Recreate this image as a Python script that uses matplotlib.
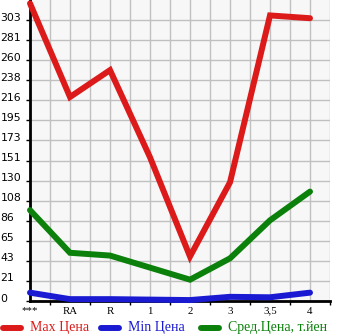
import matplotlib
matplotlib.use("Agg")
import matplotlib.pyplot as plt
import matplotlib.transforms as mtransforms
from matplotlib.lines import Line2D

# data
categories = ["***", "RA", "R", "1", "2", "3", "3,5", "4"]
max_price = [321, 220, 249, 155, 48, 128, 308, 305]
min_price = [9, 2, 2, 1.5, 1, 4.5, 4, 9]
avg_price = [98, 52, 49, 36, 23, 46, 87, 118]
y_labels = ["0", "21", "43", "65", "86", "108", "130", "151", "173",
            "195", "216", "238", "260", "281", "303"]
legend_names = ["Max Цена", "Min Цена", "Сред.Цена, т.йен"]

red = "#dc1a1a"
blue = "#1a1ad2"
green = "#0b800b"
colors = [red, blue, green]

plt.rcParams['font.family'] = ['Liberation Serif', 'DejaVu Serif']

W, H = 345, 335
fig = plt.figure(figsize=(W / 100, H / 100), dpi=100)
ax = fig.add_axes([30 / W, (H - 301) / H, 300 / W, 301 / H])
ax.set_facecolor("#f7f7f7")

step = 303 / 14.0
ax.set_ylim(0, step * 15)
ax.set_xlim(0, 7.5)

x = list(range(len(categories)))
lw = 4.3
for vals, c in zip([max_price, min_price, avg_price], colors):
    ax.plot(x, vals, color=c, lw=lw, solid_capstyle='round',
            solid_joinstyle='miter', clip_on=False, zorder=3)

ax.set_yticks([i * step for i in range(len(y_labels))])
ax.set_yticklabels(y_labels, fontsize=7.8, family='DejaVu Sans')
ax.set_xticks(x)
ax.set_xticklabels(categories, fontsize=7.8)
ax.set_xticks([i + 0.5 for i in x], minor=True)

ax.tick_params(axis='x', which='major', length=0, pad=4)
ax.tick_params(axis='x', which='minor', length=3, width=1, color='black')
ax.tick_params(axis='y', length=3, width=1, color='black', pad=18.3)

# labels start at the left edge, a little above their gridlines
off = mtransforms.ScaledTranslation(0, 3.5 / 100, fig.dpi_scale_trans)
for lab in ax.get_yticklabels():
    lab.set_horizontalalignment('left')
    lab.set_transform(lab.get_transform() + off)

ax.grid(True, which='both', axis='x', color='#c0c0c0', lw=1)
ax.grid(True, which='major', axis='y', color='#c0c0c0', lw=1)
ax.set_axisbelow(True)
for s in ['top', 'right']:
    ax.spines[s].set_visible(False)
ax.spines['left'].set_linewidth(2)
ax.spines['bottom'].set_linewidth(2)

# legend along the bottom
ly = 1 - 328 / H
starts = [3, 101, 201]
for x0, name, c in zip(starts, legend_names, colors):
    fig.add_artist(Line2D([x0 / W, (x0 + 18) / W], [ly, ly], color=c, lw=lw,
                          solid_capstyle='round', transform=fig.transFigure))
    fig.text((x0 + 27) / W, ly, name, color=c, fontsize=10,
             va='center', ha='left')

fig.savefig("out.png", dpi=100)
